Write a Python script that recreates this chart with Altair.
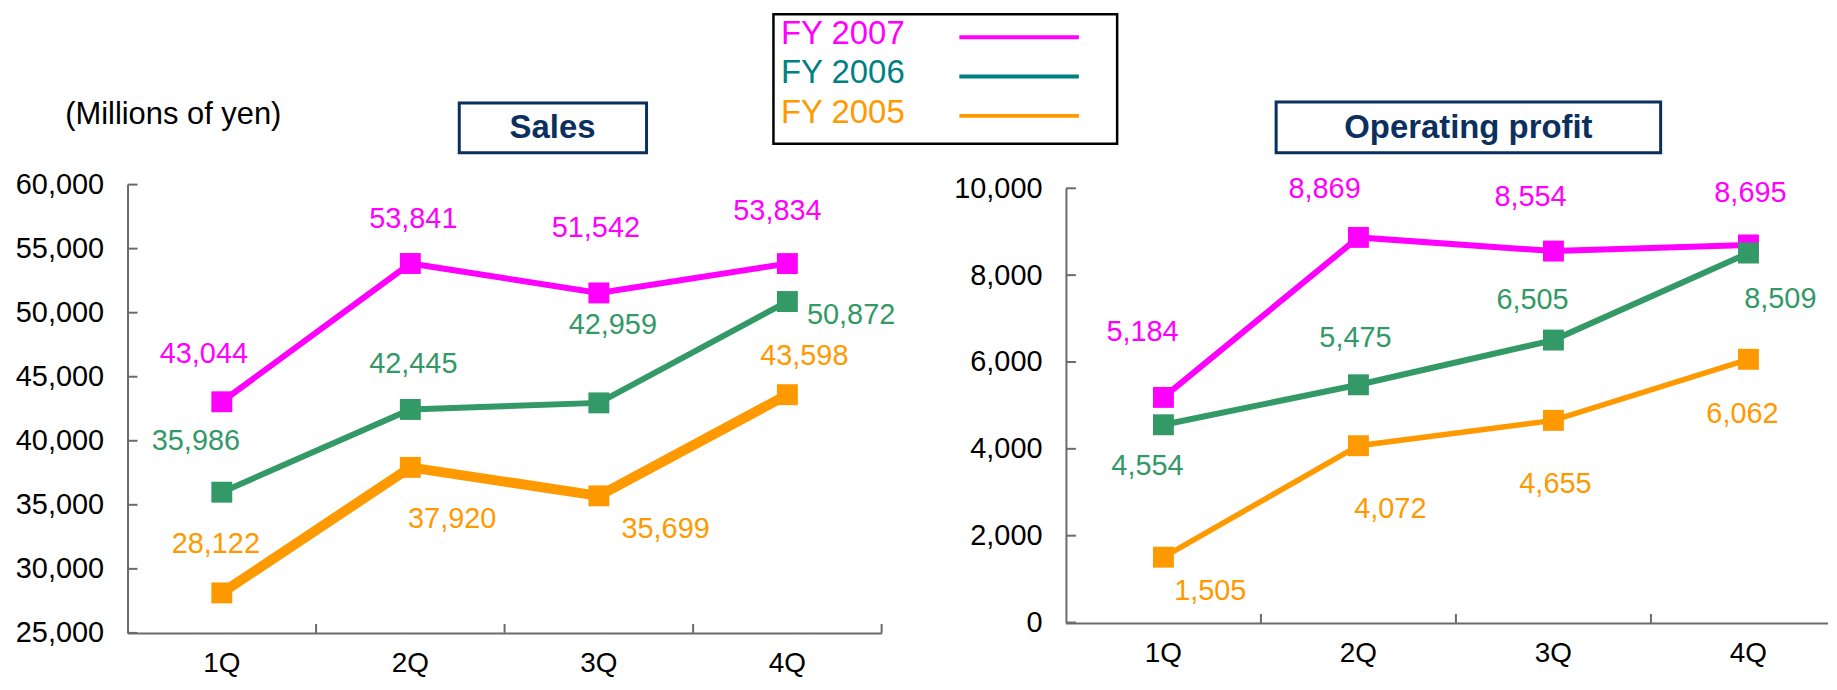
import altair as alt
import pandas as pd

# ---------------- data ----------------
quarters = ["1Q", "2Q", "3Q", "4Q"]
years = ["FY 2007", "FY 2006", "FY 2005"]

sales_fy2007 = [43044, 53841, 51542, 53834]
sales_fy2006 = [35986, 42445, 42959, 50872]
sales_fy2005 = [28122, 37920, 35699, 43598]

profit_fy2007 = [5184, 8869, 8554, 8695]
profit_fy2006 = [4554, 5475, 6505, 8509]
profit_fy2005 = [1505, 4072, 4655, 6062]

sales_ticks = [25000, 30000, 35000, 40000, 45000, 50000, 55000, 60000]
profit_ticks = [0, 2000, 4000, 6000, 8000, 10000]

# ---------------- styles ----------------
FONT = "Liberation Sans, Arial, sans-serif"
NAVY = "#0B2F5E"
AXIS_GRAY = "#6b6b6b"
line_colors = ["#FF00FF", "#339966", "#FF9900"]
legend_colors = ["#FF00FF", "#008080", "#FF9900"]
sales_label_colors = ["#FF00FF", "#339966", "#FF9900"]
profit_label_colors = ["#FF00FF", "#339966", "#FF6600"]
sales_line_widths = [6, 6, 10]
profit_line_widths = [6, 6, 5.5]
LABEL_SIZE = 29
XLABEL_SIZE = 28
XLABEL_PAD = 17

# label offsets in pixels (rows: years, cols: quarters)
sales_label_dx = [[-18, 3, -3, -10], [-26, 3, 14, 64], [-6, 42, 67, 17]]
sales_label_dy = [[-48, -45, -65, -53], [-51, -46, -78, 14], [-49, 52, 33, -39]]
profit_label_dx = [[-21, -34, -23, 2], [-16, -3, -21, 32], [47, 32, 2, -6]]
profit_label_dy = [[-66, -49, -54, -52], [41, -47, -40, 46], [34, 64, 64, 55]]


def long_df(series):
    rows = []
    for yr, vals in zip(years, series):
        for q, v in zip(quarters, vals):
            rows.append({"year": yr, "quarter": q, "value": v})
    return pd.DataFrame(rows)


def make_main(df, ticks, domain, yrange, width, height, xspan, label_colors,
              line_widths, ldx, ldy, title, tbox, ttext):
    # xspan: full extent of the category axis (may run past the visible width)
    clipped = xspan > width
    x_scale = alt.Scale(type="band", domain=quarters, paddingInner=0, paddingOuter=0,
                        range=[0, xspan])
    if clipped:
        x_axis = None
    else:
        x_axis = alt.Axis(title=None, labelAngle=0, ticks=False, grid=False,
                          domainColor=AXIS_GRAY, domainWidth=2, labelFontSize=XLABEL_SIZE,
                          labelColor="black", labelPadding=XLABEL_PAD, labelFont=FONT)
    xenc = alt.X("quarter:N", scale=x_scale, axis=x_axis)

    y_axis = alt.Axis(title=None, values=ticks, format=",d", ticks=False, grid=False,
                      domainColor=AXIS_GRAY, domainWidth=2, labelFontSize=LABEL_SIZE,
                      labelColor="black", labelPadding=24, labelFont=FONT)
    skw = dict(domain=domain, nice=False, zero=False)
    if yrange is not None:
        skw["range"] = yrange
    yenc = alt.Y("value:Q", scale=alt.Scale(**skw), axis=y_axis)

    color = alt.Color("year:N", scale=alt.Scale(domain=years, range=line_colors), legend=None)

    lines = []
    for i, yr in enumerate(years):
        lines.append(
            alt.Chart(df).transform_filter(alt.datum.year == yr)
            .mark_line(strokeWidth=line_widths[i])
            .encode(x=xenc, y=yenc, color=color)
        )
    points = []
    for yr in years:
        points.append(
            alt.Chart(df).transform_filter(alt.datum.year == yr)
            .mark_square(size=441, opacity=1)
            .encode(x=xenc, y=yenc, color=color)
        )

    labels = []
    for i, yr in enumerate(years):
        for j, q in enumerate(quarters):
            labels.append(
                alt.Chart(df).transform_filter(
                    (alt.datum.year == yr) & (alt.datum.quarter == q)
                ).mark_text(dx=ldx[i][j], dy=ldy[i][j], fontSize=LABEL_SIZE, font=FONT,
                            align="center", baseline="middle").encode(
                    x=xenc, y=yenc,
                    text=alt.Text("value:Q", format=",d"),
                    fill=alt.Fill("year:N", scale=alt.Scale(domain=years, range=label_colors), legend=None),
                )
            )

    yticks = alt.Chart(pd.DataFrame({"value": ticks})).mark_rule(
        color=AXIS_GRAY, strokeWidth=2).encode(y=yenc, x=alt.value(0), x2=alt.value(10))
    qdf = pd.DataFrame({"quarter": quarters[:-1] if clipped else quarters})
    xticks = alt.Chart(qdf).mark_rule(color=AXIS_GRAY, strokeWidth=2).encode(
        x=alt.X("quarter:N", scale=x_scale, axis=x_axis, bandPosition=1),
        y=alt.value(height), y2=alt.value(height - 9))

    extra = []
    if clipped:
        # category axis drawn by hand: visible part of the line and the quarter labels
        extra.append(
            alt.Chart(pd.DataFrame({"k": [0]})).mark_rule(color=AXIS_GRAY, strokeWidth=2).encode(
                x=alt.value(0), x2=alt.value(width), y=alt.value(height + 0.5))
        )
        extra.append(
            alt.Chart(pd.DataFrame({"quarter": quarters})).mark_text(
                fontSize=XLABEL_SIZE, font=FONT, color="black", align="center", baseline="top"
            ).encode(x=xenc, y=alt.value(height + 0.5 + XLABEL_PAD), text="quarter:N")
        )

    tdf = pd.DataFrame({"label": [title]})
    title_box = alt.Chart(tdf).mark_rect(fill="white", stroke=NAVY, strokeWidth=3).encode(
        x=alt.value(tbox[0]), x2=alt.value(tbox[1]), y=alt.value(tbox[2]), y2=alt.value(tbox[3]))
    title_text = alt.Chart(tdf).mark_text(fontSize=33, fontWeight="bold", font=FONT, color=NAVY,
                                         align="center", baseline="middle").encode(
        text="label:N", x=alt.value(ttext[0]), y=alt.value(ttext[1]))

    return extra + [yticks, xticks] + lines + points + labels + [title_box, title_text]


sales_df = long_df([sales_fy2007, sales_fy2006, sales_fy2005])
profit_df = long_df([profit_fy2007, profit_fy2006, profit_fy2005])

LW, LH = 757, 450
RW, RH = 765, 440
R_SPAN = 783

left_layers = make_main(sales_df, sales_ticks, [25000, 60000], None, LW, LH, LW,
                        sales_label_colors, sales_line_widths, sales_label_dx, sales_label_dy,
                        "Sales", (333, 521, -82, -32), (426.6, -57))
unit_text = alt.Chart(pd.DataFrame({"t": ["(Millions of yen)"]})).mark_text(
    align="left", baseline="middle", fontSize=31, font=FONT, color="black").encode(
    text="t:N", x=alt.value(-62.6), y=alt.value(-69.6))
left_main = alt.layer(*left_layers, unit_text)

# custom legend box
legend_df = pd.DataFrame({"year": years})
leg_y = alt.Y("year:N", scale=alt.Scale(type="point", domain=years, range=[-151, -72], padding=0), axis=None)
leg_color = alt.Color("year:N", scale=alt.Scale(domain=years, range=legend_colors), legend=None)
leg_box = alt.Chart(pd.DataFrame({"k": [0]})).mark_rect(fill="white", stroke="black", strokeWidth=2.5).encode(
    x=alt.value(648.4), x2=alt.value(993.4), y=alt.value(-171), y2=alt.value(-41))
leg_text = alt.Chart(legend_df).mark_text(align="left", baseline="middle", fontSize=33, font=FONT).encode(
    x=alt.value(656), y=leg_y, text="year:N", color=leg_color)
leg_rule = alt.Chart(legend_df).mark_rule(strokeWidth=4, yOffset=3).encode(
    x=alt.value(835), x2=alt.value(955), y=leg_y, color=leg_color)
legend_layer = alt.layer(leg_box, leg_text, leg_rule)

left = alt.layer(left_main, legend_layer).resolve_scale(
    y="independent", color="independent").properties(width=LW, height=LH)

right_layers = make_main(profit_df, profit_ticks, [0, 10000], [439.6, 3.7], RW, RH, R_SPAN,
                         profit_label_colors, profit_line_widths, profit_label_dx, profit_label_dy,
                         "Operating profit", (211, 597, -83, -32), (404, -57))
right = alt.layer(*right_layers).properties(width=RW, height=RH)

chart = alt.hconcat(left, right, spacing=185, bounds="flush").properties(
    padding={"left": 7, "top": 3, "right": 0, "bottom": 0}
).configure_view(stroke=None)

chart.save("out.html", embed_options={"renderer": "svg", "actions": False})
